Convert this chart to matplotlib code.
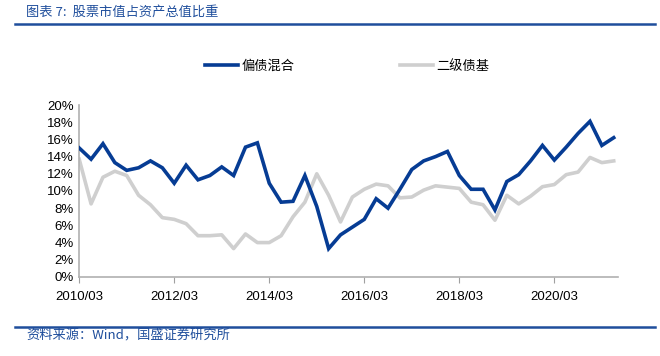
import matplotlib
matplotlib.use("Agg")
import matplotlib.pyplot as plt
from matplotlib.ticker import PercentFormatter

plt.rcParams['font.family'] = ['Liberation Sans', 'Noto Sans CJK SC', 'DejaVu Sans']

# quarterly, 2010/03 .. 2021/06
quarters = [f"{y}/{m:02d}" for y in range(2010, 2022) for m in (3, 6, 9, 12)][:46]

bond_mix = [15.0, 13.7, 15.5, 13.3, 12.4, 12.7, 13.5, 12.7, 10.9, 13.0,
            11.3, 11.8, 12.8, 11.8, 15.1, 15.6, 10.9, 8.7, 8.8, 11.8,
            8.2, 3.3, 4.9, 5.8, 6.7, 9.1, 8.0, 10.2, 12.5, 13.5,
            14.0, 14.6, 11.8, 10.2, 10.2, 7.8, 11.1, 11.9, 13.5, 15.3,
            13.6, 15.1, 16.7, 18.1, 15.3, 16.2]
secondary_bond = [13.7, 8.5, 11.6, 12.3, 11.8, 9.5, 8.4, 6.9, 6.7, 6.2,
                  4.8, 4.8, 4.9, 3.3, 5.0, 4.0, 4.0, 4.8, 7.0, 8.7,
                  12.0, 9.5, 6.4, 9.3, 10.2, 10.8, 10.6, 9.2, 9.3, 10.1,
                  10.6, 10.45, 10.3, 8.7, 8.4, 6.6, 9.5, 8.5, 9.4, 10.5,
                  10.75, 11.9, 12.2, 13.9, 13.3, 13.5]

blue = '#063C94'
grey = '#CFCFCF'
text_blue = '#1F4E9C'

fig = plt.figure(figsize=(6.6, 3.56), dpi=100)
ax = fig.add_axes([0.12, 0.222, 0.816, 0.483])

x = list(range(len(quarters)))
ax.plot(x, bond_mix, color=blue, lw=2.6, label='偏债混合', solid_joinstyle='miter', zorder=3)
ax.plot(x, secondary_bond, color=grey, lw=2.6, label='二级债基', zorder=2)

ax.set_xlim(0, 45.34)
ax.set_ylim(0, 20)
ax.set_yticks(range(0, 21, 2))
ax.yaxis.set_major_formatter(PercentFormatter(decimals=0))
ax.set_xticks(x[::8])
ax.set_xticklabels(quarters[::8])
ax.tick_params(axis='y', length=0, labelsize=9.5, pad=4)
ax.tick_params(axis='x', length=4, color='#A0A0A0', labelsize=9.5, pad=6)
for s in ['top', 'right']:
    ax.spines[s].set_visible(False)
for s in ['left', 'bottom']:
    ax.spines[s].set_color('#B0B0B0')
    ax.spines[s].set_linewidth(1.2)

ax.legend(loc='lower center', bbox_to_anchor=(0.497, 1.12), ncol=2, frameon=False,
          handlelength=2.5, handletextpad=0.25, columnspacing=8.0,
          prop={'family': ['Noto Sans CJK SC'], 'size': 9.5})

# header / footer
fig.text(0.04, 0.965, '图表 7:  股票市值占资产总值比重', color=text_blue, fontsize=9.5,
         family=['Noto Sans CJK SC', 'DejaVu Sans'], va='center', style='italic')
fig.add_artist(plt.Line2D([0.023, 0.993], [0.933, 0.933], color=text_blue, lw=1.8))
fig.add_artist(plt.Line2D([0.023, 0.993], [0.082, 0.082], color=text_blue, lw=1.8))
fig.text(0.04, 0.057, '资料来源：Wind，国盛证券研究所', color=text_blue, fontsize=9.5,
         family=['Noto Sans CJK SC', 'DejaVu Sans'], va='center', style='italic')

fig.savefig('out.png', dpi=100)
